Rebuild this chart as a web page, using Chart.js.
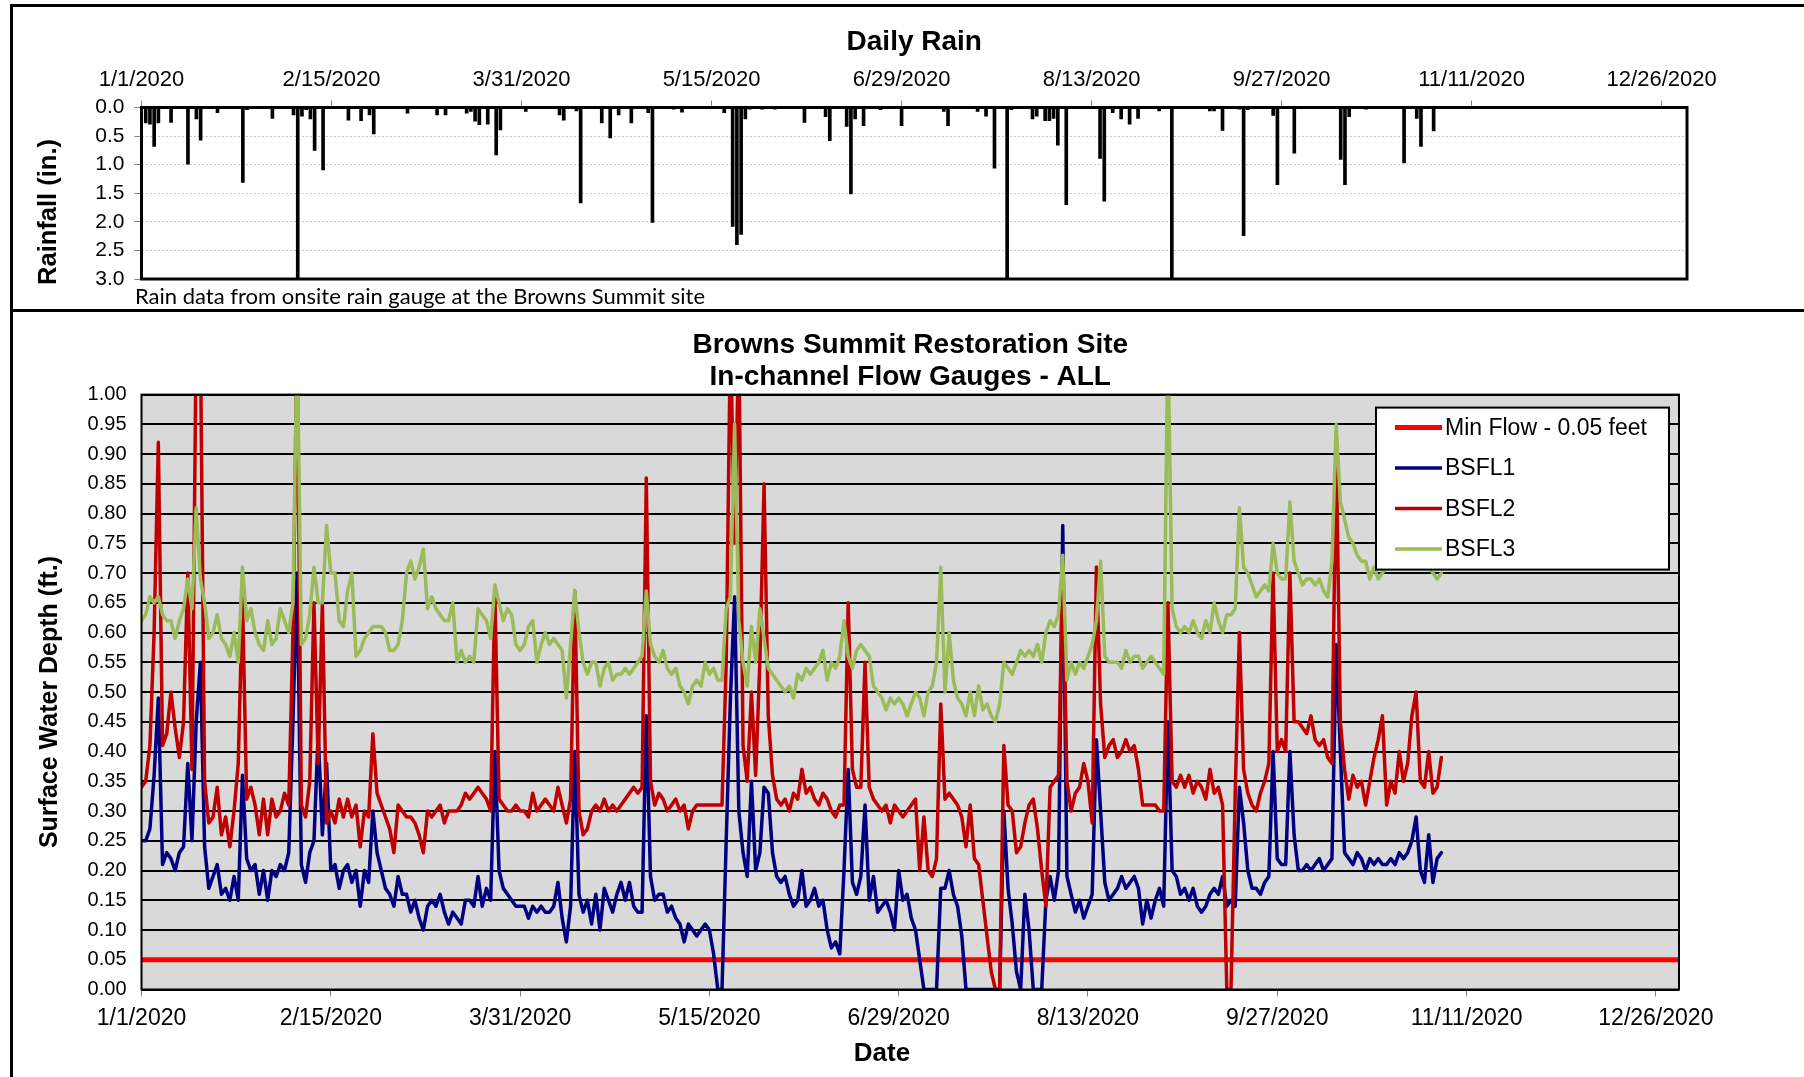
<!DOCTYPE html>
<html><head><meta charset="utf-8">
<script src="https://cdn.jsdelivr.net/npm/chart.js@4.4.1/dist/chart.umd.min.js"></script>
<style>
html,body{margin:0;padding:0;background:#fff;}
body{width:1804px;height:1077px;position:relative;overflow:hidden;font-family:"Liberation Sans",Arial,sans-serif;}
.hline{position:absolute;background:#000;}
#note{position:absolute;left:135px;top:283px;font-family:Lato,"Open Sans",sans-serif;font-size:22px;line-height:26px;color:#000;white-space:nowrap;}
.atitle{position:absolute;font-family:"Liberation Sans",Arial,sans-serif;font-weight:bold;color:#000;white-space:nowrap;line-height:1;}
.rot{transform:translate(-50%,-50%) rotate(-90deg);}
.ctr{transform:translate(-50%,-50%);}
</style></head><body>
<canvas id="rain" width="1804" height="310" style="position:absolute;left:0;top:0"></canvas>
<canvas id="flow" width="1804" height="765" style="position:absolute;left:0;top:312px"></canvas>
<div class="hline" style="left:10px;top:4px;width:1794px;height:3px"></div>
<div class="hline" style="left:10px;top:309px;width:1794px;height:3px"></div>
<div class="hline" style="left:10px;top:4px;width:3px;height:1073px"></div>
<div id="note">Rain data from onsite rain gauge at the Browns Summit site</div>
<div class="atitle rot" style="left:48px;top:212px;font-size:25.5px">Rainfall (in.)</div>
<div class="atitle rot" style="left:48px;top:702px;font-size:25px">Surface Water Depth (ft.)</div>
<div class="atitle ctr" style="left:882px;top:1052px;font-size:26px">Date</div>
<script>
// ---------- DATA ----------
// Axis ticks (day offset from 1/1/2020) and their labels
const tickDays = [0, 45, 90, 135, 180, 225, 270, 315, 360];
const tickLabels = ['1/1/2020','2/15/2020','3/31/2020','5/15/2020','6/29/2020','8/13/2020','9/27/2020','11/11/2020','12/26/2020'];

// Daily rain (day offset from 1/1/2020, inches)
const rainDays = [1,2,3,4,7,11,13,14,18,24,25,31,36,37,38,39,40,41,43,49,52,54,55,63,70,72,77,78,79,80,82,84,85,91,99,100,103,104,109,111,113,116,120,121,126,128,138,140,141,142,143,144,145,146,147,148,149,150,151,152,153,154,157,162,163,167,168,169,171,175,180,190,191,198,200,202,205,206,211,212,214,215,216,217,219,227,228,230,232,234,236,241,244,253,254,256,260,261,262,268,269,273,284,285,286,290,299,302,303,306];
const rainInches = [0.27,0.29,0.68,0.27,0.26,0.99,0.20,0.57,0.09,1.31,0.04,0.19,0.13,3.0,0.15,0.04,0.20,0.75,1.09,0.22,0.23,0.13,0.46,0.10,0.13,0.13,0.10,0.07,0.24,0.30,0.29,0.83,0.39,0.07,0.13,0.22,0.06,1.67,0.27,0.53,0.13,0.27,0.09,2.01,0.03,0.08,0.09,2.08,2.40,2.22,0.20,0.03,0.02,0.02,0.03,0.02,0.02,0.03,0.02,0.02,0.02,0.02,0.26,0.16,0.58,0.33,1.51,0.20,0.32,0.04,0.32,0.07,0.32,0.07,0.15,1.06,3.0,0.04,0.20,0.15,0.23,0.23,0.19,0.66,1.70,0.89,1.64,0.09,0.20,0.29,0.19,0.06,3.0,0.06,0.06,0.40,0.03,2.24,0.04,0.14,1.35,0.80,0.91,1.35,0.16,0.03,0.97,0.19,0.68,0.41];

// Minimum flow threshold (ft)
const minFlow = 0.05;

// Daily surface water depth (ft), index = day offset from 1/1/2020
const bsfl1 = [
0.25,0.25,0.27,0.36,0.49,0.21,0.23,0.22,0.20,0.23,
0.24,0.38,0.25,0.45,0.55,0.24,0.17,0.19,0.21,0.16,
0.17,0.15,0.19,0.15,0.36,0.22,0.20,0.21,0.16,0.20,
0.15,0.20,0.19,0.21,0.20,0.23,0.45,0.70,0.21,0.18,
0.23,0.25,0.43,0.26,0.38,0.20,0.21,0.17,0.20,0.21,
0.18,0.20,0.14,0.20,0.18,0.30,0.23,0.20,0.17,0.16,
0.14,0.19,0.16,0.16,0.13,0.15,0.12,0.10,0.14,0.15,
0.14,0.16,0.13,0.11,0.13,0.12,0.11,0.15,0.15,0.14,
0.19,0.14,0.17,0.15,0.40,0.20,0.17,0.16,0.15,0.14,
0.14,0.14,0.12,0.14,0.13,0.14,0.13,0.13,0.14,0.18,
0.12,0.08,0.14,0.40,0.16,0.13,0.15,0.11,0.16,0.10,
0.17,0.15,0.13,0.16,0.18,0.15,0.18,0.14,0.13,0.13,
0.46,0.19,0.15,0.16,0.16,0.13,0.14,0.12,0.11,0.08,
0.11,0.10,0.09,0.10,0.11,0.10,0.06,0.00,0.00,0.25,
0.49,0.66,0.30,0.23,0.19,0.35,0.20,0.23,0.34,0.33,
0.23,0.19,0.18,0.19,0.16,0.14,0.15,0.20,0.14,0.15,
0.17,0.14,0.15,0.10,0.07,0.08,0.06,0.20,0.37,0.18,
0.16,0.19,0.31,0.15,0.19,0.13,0.14,0.15,0.13,0.10,
0.20,0.15,0.16,0.12,0.10,0.05,0.00,0.00,0.00,0.00,
0.17,0.17,0.20,0.16,0.14,0.09,0.00,0.00,0.00,0.00,
0.00,0.00,0.00,0.00,0.00,0.30,0.17,0.11,0.03,0.00,
0.16,0.10,0.00,0.00,0.00,0.15,0.19,0.15,0.20,0.78,
0.19,0.16,0.13,0.15,0.12,0.14,0.16,0.42,0.30,0.18,
0.15,0.16,0.17,0.19,0.17,0.18,0.19,0.17,0.11,0.15,
0.12,0.15,0.17,0.14,0.45,0.20,0.19,0.16,0.17,0.15,
0.17,0.14,0.13,0.14,0.16,0.17,0.16,0.19,0.14,0.15,
0.14,0.34,0.28,0.20,0.17,0.17,0.16,0.18,0.19,0.40,
0.22,0.21,0.21,0.40,0.26,0.20,0.20,0.21,0.20,0.21,
0.22,0.20,0.21,0.22,0.58,0.40,0.23,0.22,0.21,0.23,
0.22,0.20,0.22,0.21,0.22,0.21,0.21,0.22,0.21,0.23,
0.22,0.23,0.25,0.29,0.20,0.18,0.26,0.18,0.22,0.23
];
const bsfl2 = [
0.34,0.35,0.41,0.60,0.92,0.41,0.43,0.50,0.44,0.39,
0.45,0.70,0.37,1.10,1.10,0.35,0.28,0.29,0.34,0.26,
0.29,0.24,0.30,0.38,0.66,0.32,0.34,0.31,0.26,0.32,
0.26,0.32,0.29,0.30,0.33,0.31,0.60,1.10,0.31,0.29,
0.35,0.65,0.38,0.65,0.28,0.30,0.28,0.32,0.29,0.32,
0.29,0.31,0.24,0.30,0.29,0.43,0.33,0.31,0.29,0.27,
0.23,0.31,0.30,0.29,0.29,0.28,0.26,0.23,0.30,0.29,
0.30,0.31,0.28,0.30,0.30,0.30,0.31,0.33,0.32,0.33,
0.34,0.33,0.32,0.30,0.67,0.32,0.31,0.30,0.30,0.31,
0.30,0.30,0.29,0.33,0.30,0.31,0.32,0.31,0.30,0.34,
0.31,0.28,0.32,0.67,0.30,0.26,0.27,0.30,0.31,0.30,
0.32,0.30,0.31,0.30,0.31,0.32,0.33,0.34,0.33,0.34,
0.86,0.35,0.31,0.33,0.32,0.30,0.31,0.32,0.30,0.31,
0.27,0.30,0.31,0.31,0.31,0.31,0.31,0.31,0.31,0.55,
1.10,0.75,1.10,0.41,0.35,0.50,0.36,0.55,0.85,0.46,
0.36,0.32,0.31,0.32,0.30,0.33,0.32,0.37,0.33,0.34,
0.32,0.31,0.33,0.32,0.30,0.29,0.31,0.31,0.65,0.37,
0.34,0.34,0.55,0.34,0.32,0.31,0.30,0.31,0.28,0.31,
0.30,0.29,0.30,0.31,0.32,0.20,0.29,0.20,0.19,0.22,
0.48,0.32,0.33,0.32,0.31,0.29,0.24,0.31,0.22,0.21,
0.15,0.09,0.03,0.00,0.00,0.41,0.31,0.30,0.23,0.24,
0.28,0.31,0.32,0.27,0.20,0.14,0.34,0.35,0.36,0.72,
0.35,0.30,0.33,0.34,0.38,0.35,0.28,0.71,0.48,0.39,
0.41,0.42,0.39,0.40,0.42,0.40,0.41,0.37,0.31,0.31,
0.31,0.31,0.30,0.30,0.65,0.35,0.34,0.36,0.34,0.36,
0.33,0.35,0.34,0.32,0.37,0.33,0.34,0.31,0.00,0.00,
0.33,0.60,0.37,0.33,0.31,0.30,0.33,0.35,0.38,0.70,
0.40,0.42,0.40,0.70,0.45,0.45,0.44,0.43,0.46,0.42,
0.41,0.42,0.39,0.38,0.92,0.45,0.37,0.32,0.36,0.34,
0.35,0.31,0.35,0.39,0.42,0.46,0.31,0.35,0.33,0.40,
0.35,0.38,0.46,0.50,0.35,0.34,0.40,0.33,0.34,0.39
];
const bsfl3 = [
0.62,0.63,0.66,0.65,0.66,0.63,0.62,0.62,0.59,0.62,
0.64,0.69,0.64,0.81,0.69,0.65,0.59,0.60,0.63,0.59,
0.58,0.56,0.60,0.55,0.71,0.62,0.64,0.60,0.58,0.57,
0.62,0.58,0.59,0.64,0.62,0.60,0.65,1.10,0.58,0.59,
0.63,0.71,0.65,0.65,0.78,0.70,0.70,0.62,0.61,0.67,
0.70,0.56,0.57,0.59,0.60,0.61,0.61,0.61,0.60,0.57,
0.57,0.58,0.62,0.70,0.72,0.69,0.71,0.74,0.64,0.66,
0.64,0.63,0.62,0.62,0.65,0.55,0.57,0.55,0.56,0.55,
0.64,0.63,0.62,0.59,0.68,0.65,0.62,0.64,0.63,0.58,
0.57,0.58,0.61,0.62,0.55,0.58,0.60,0.58,0.59,0.58,
0.57,0.49,0.58,0.67,0.60,0.55,0.53,0.55,0.55,0.51,
0.54,0.55,0.52,0.53,0.53,0.54,0.53,0.54,0.55,0.56,
0.67,0.58,0.56,0.55,0.57,0.54,0.53,0.54,0.51,0.50,
0.48,0.51,0.52,0.51,0.55,0.53,0.54,0.52,0.52,0.64,
0.66,0.95,0.62,0.55,0.51,0.61,0.55,0.64,0.59,0.54,
0.53,0.52,0.51,0.50,0.51,0.49,0.53,0.52,0.54,0.53,
0.54,0.55,0.57,0.52,0.55,0.54,0.56,0.62,0.56,0.54,
0.57,0.58,0.57,0.56,0.51,0.50,0.49,0.47,0.49,0.48,
0.49,0.48,0.46,0.48,0.50,0.49,0.46,0.50,0.51,0.55,
0.71,0.50,0.60,0.52,0.49,0.48,0.46,0.50,0.46,0.51,
0.47,0.48,0.46,0.45,0.48,0.55,0.54,0.53,0.55,0.57,
0.56,0.57,0.56,0.58,0.55,0.60,0.62,0.61,0.63,0.73,
0.52,0.55,0.53,0.55,0.54,0.56,0.58,0.62,0.72,0.56,
0.55,0.55,0.55,0.54,0.57,0.55,0.56,0.56,0.54,0.55,
0.56,0.55,0.54,0.53,1.10,0.64,0.61,0.60,0.61,0.60,
0.62,0.60,0.59,0.62,0.60,0.65,0.62,0.60,0.63,0.63,
0.64,0.81,0.71,0.70,0.68,0.66,0.67,0.68,0.67,0.75,
0.70,0.69,0.69,0.82,0.72,0.70,0.68,0.69,0.69,0.68,
0.69,0.67,0.66,0.72,0.95,0.82,0.79,0.76,0.75,0.73,
0.72,0.72,0.69,0.71,0.69,0.70,0.71,0.72,0.72,0.71,
0.72,0.73,0.72,0.71,0.72,0.72,0.71,0.70,0.69,0.70
];

// ---------- CHARTS ----------
Chart.defaults.font.family = '"Liberation Sans", Arial, Helvetica, sans-serif';
Chart.defaults.color = '#000';

const plotFrame = {
  id: 'plotFrame',
  beforeDraw(chart, args, opts) {
    if (!opts.fill) return;
    const a = chart.chartArea, c = chart.ctx;
    c.save(); c.fillStyle = opts.fill; c.fillRect(a.left, a.top, a.right - a.left, a.bottom - a.top); c.restore();
  },
  afterDatasetsDraw(chart, args, opts) {
    const a = chart.chartArea, c = chart.ctx;
    c.save(); c.strokeStyle = opts.color || '#000'; c.lineWidth = opts.width || 2;
    c.strokeRect(a.left, a.top, a.right - a.left, a.bottom - a.top); c.restore();
  }
};

const boxLegend = {
  id: 'boxLegend',
  afterDraw(chart, args, opts) {
    if (!opts.display) return;
    const a = chart.chartArea, c = chart.ctx;
    const w = 293, h = 162, x = a.right - 10 - w, y = a.top + 13;
    c.save();
    c.fillStyle = '#fff'; c.fillRect(x, y, w, h);
    c.strokeStyle = '#000'; c.lineWidth = 2; c.strokeRect(x, y, w, h);
    c.font = '23px "Liberation Sans", Arial, sans-serif';
    c.textBaseline = 'middle';
    chart.data.datasets.forEach((ds, i) => {
      const cy = y + 20 + i * 40.5;
      c.strokeStyle = ds.borderColor; c.lineWidth = ds.borderWidth; c.lineCap = 'butt';
      c.beginPath(); c.moveTo(x + 19, cy); c.lineTo(x + 66, cy); c.stroke();
      c.fillStyle = '#000'; c.fillText(ds.label, x + 69, cy + 1);
    });
    c.restore();
  }
};

const dayTicks = s => { s.ticks = tickDays.map(v => ({ value: v })); };
const dayLabel = (v) => tickLabels[tickDays.indexOf(v)] ?? '';

new Chart(document.getElementById('rain'), {
  type: 'bar',
  data: {
    datasets: [{
      label: 'Daily Rain',
      data: rainDays.map((d, i) => ({ x: d, y: rainInches[i] })),
      backgroundColor: '#000',
      borderWidth: 0,
      barThickness: 3
    }]
  },
  options: {
    responsive: false, animation: false, devicePixelRatio: 1,
    layout: { padding: { left: 30, right: 117, top: 0, bottom: 31 } },
    plugins: {
      legend: { display: false }, tooltip: { enabled: false },
      title: { display: true, fullSize: false, text: 'Daily Rain', color: '#000',
               font: { size: 28, weight: 'bold', lineHeight: 1.0 }, padding: { top: 28.5, bottom: 1 } },
      plotFrame: { color: '#000', width: 3 },
      boxLegend: { display: false }
    },
    scales: {
      x: {
        type: 'linear', position: 'top', min: 0, max: 366, offset: false,
        afterBuildTicks: dayTicks,
        afterFit: s => { s.height = 50; },
        ticks: { autoSkip: false, maxRotation: 0, padding: 7, font: { size: 22 }, color: '#000', callback: dayLabel },
        grid: { offset: false, drawOnChartArea: false, drawTicks: true, tickLength: 7, color: '#808080' },
        border: { display: false }
      },
      y: {
        reverse: true, min: 0, max: 3,
        afterBuildTicks: s => { s.ticks = [0, 0.5, 1, 1.5, 2, 2.5, 3].map(v => ({ value: v })); },
        afterFit: s => { s.width = 111.5; },
        ticks: { padding: 10, font: { size: 21 }, color: '#000', callback: v => v.toFixed(1) },
        grid: { color: '#c8c8c8', lineWidth: 1, drawTicks: true, tickLength: 7, tickColor: '#808080', tickBorderDash: [] },
        border: { display: false, dash: [2, 2] }
      }
    }
  },
  plugins: [plotFrame, boxLegend]
});

const lineDs = (label, arr, color, order) => ({
  label, data: arr.map((v, i) => ({ x: i, y: v })), borderColor: color, backgroundColor: color,
  borderWidth: 3.5, pointRadius: 0, tension: 0, order, borderJoinStyle: 'round', borderCapStyle: 'round', fill: false
});

new Chart(document.getElementById('flow'), {
  type: 'line',
  data: {
    datasets: [
      { label: 'Min Flow - 0.05 feet', data: [{ x: 0, y: minFlow }, { x: 365.5, y: minFlow }],
        borderColor: '#ff0000', backgroundColor: '#ff0000', borderWidth: 5, pointRadius: 0, order: 4, fill: false },
      lineDs('BSFL1', bsfl1, '#000080', 3),
      lineDs('BSFL2', bsfl2, '#c00000', 2),
      lineDs('BSFL3', bsfl3, '#9bbb59', 1)
    ]
  },
  options: {
    responsive: false, animation: false, devicePixelRatio: 1,
    layout: { padding: { left: 30, right: 125, top: 0, bottom: 0 } },
    plugins: {
      legend: { display: false }, tooltip: { enabled: false },
      title: { display: true, fullSize: false, text: ['Browns Summit Restoration Site', 'In-channel Flow Gauges - ALL'],
               color: '#000', font: { size: 28, weight: 'bold', lineHeight: 1.15 }, padding: { top: 16.9, bottom: 1.3 } },
      plotFrame: { color: '#000', width: 2, fill: '#d9d9d9' },
      boxLegend: { display: true }
    },
    scales: {
      x: {
        type: 'linear', position: 'bottom', min: 0, max: 365.5,
        afterBuildTicks: dayTicks,
        afterFit: s => { s.height = 87.5; },
        ticks: { autoSkip: false, maxRotation: 0, padding: 8, font: { size: 23 }, color: '#000', callback: dayLabel },
        grid: { drawOnChartArea: false, drawTicks: true, tickLength: 7, color: '#808080' },
        border: { display: false }
      },
      y: {
        min: 0, max: 1,
        afterBuildTicks: s => { const t = []; for (let i = 0; i <= 20; i++) t.push({ value: Math.round(i * 5) / 100 }); s.ticks = t; },
        afterFit: s => { s.width = 111.5; },
        ticks: { padding: 15, font: { size: 20 }, color: '#000', callback: v => v.toFixed(2) },
        grid: { color: '#000', lineWidth: 2, drawTicks: false },
        border: { display: false }
      }
    }
  },
  plugins: [plotFrame, boxLegend]
});
</script>
</body></html>
